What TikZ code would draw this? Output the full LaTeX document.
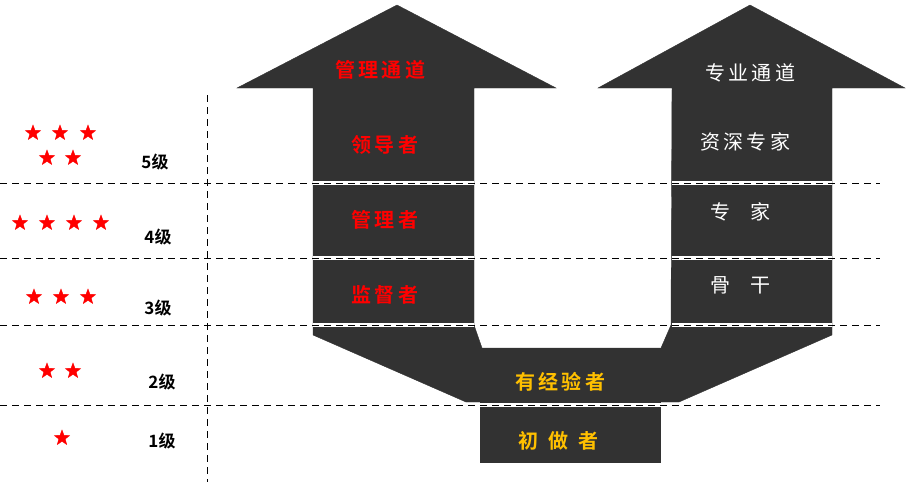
\documentclass[tikz,border=0pt]{standalone}
\usepackage{fontspec}
\newfontfamily\cjk{Noto Sans CJK SC}
\newfontfamily\cjkb{Noto Sans CJK SC Bold}
\usetikzlibrary{shapes.geometric}
\definecolor{darkbody}{RGB}{50,50,50}
\definecolor{gold}{RGB}{255,192,0}
\tikzset{
  body/.style={fill=darkbody, draw=darkbody},
  redtxt/.style={text=red, font=\cjkb\fontsize{20}{20}\selectfont},
  whitetxt/.style={text=white, font=\cjk\fontsize{20}{20}\selectfont},
  goldtxt/.style={text=gold, font=\cjkb\fontsize{20}{20}\selectfont},
  leveltxt/.style={font=\cjkb\fontsize{17}{17}\selectfont},
  redstar/.style={star, star points=5, star point ratio=2.4, fill=red, draw=red, inner sep=0pt, minimum size=16pt},
  levelline/.style={black, thick, dashed, dash pattern=on 7pt off 5pt},
  chain/.style={white, line width=3.5pt}
}
\begin{document}
\begin{tikzpicture}[x=1pt, y=-1pt]
  \useasboundingbox (0,0) rectangle (913,485);
  % the two channels and their common base
  \fill[body] (237,88) -- (397,5) -- (556,88) -- (474,88) -- (474,325) -- (482,348)
    -- (661,348) -- (671,325) -- (672,88) -- (598,88) -- (750,5) -- (905,88)
    -- (832,88) -- (832,335) -- (679,402) -- (466,402) -- (313,335) -- (313,88) -- cycle;
  \fill[body] (480,402) rectangle (660,462);
  % level lines
  \coordinate (v1) at (207,95);
  \coordinate (v2) at (207,482);
  \draw[levelline] (v1) -- (v2);
  \foreach \y/\xa/\xb/\xc/\xd in {183/313/474/672/832, 258/313/474/672/832, 325/313/474/672/832, 405/466/680/466/680} {
    \draw[chain] (\xa,\y) -- (\xb,\y);
    \draw[chain] (\xc,\y) -- (\xd,\y);
    \draw[levelline] (0,\y) -- (880,\y);
  }
  % stars and levels
  \foreach \x/\y in {33/133, 60/133, 88/133, 47/158, 73/158, 20/223, 47/223, 74/223, 101/223,
                     34/297, 61/297, 88/297, 47/371, 73/371, 62/438}
    \node[redstar] at (\x,\y) {};
  \node[leveltxt] (l5) at (155,162) {5级};
  \node[leveltxt] (l4) at (158,237) {4级};
  \node[leveltxt] (l3) at (158,308) {3级};
  \node[leveltxt] (l2) at (162,382) {2级};
  \node[leveltxt] (l1) at (162,441) {1级};
  % management channel
  \node[redtxt] (mgmt) at (380,70) {管\,理\,通\,道};
  \node[redtxt] (lead) at (385,145) {领\,导\,者};
  \node[redtxt] (mang) at (385,220) {管\,理\,者};
  \node[redtxt] (supv) at (385,295) {监\,督\,者};
  % professional channel
  \node[whitetxt] (prof) at (750,73) {专\,业\,通\,道};
  \node[whitetxt] (senr) at (745,142) {资\,深\,专\,家};
  \node[whitetxt] (expt) at (740,212) {专\quad 家};
  \node[whitetxt] (core) at (740,285) {骨\quad 干};
  % base
  \node[goldtxt] (expd) at (560,382) {有\,经\,验\,者};
  \node[goldtxt] (novc) at (558,441) {初\enspace 做\enspace 者};
\end{tikzpicture}
\end{document}
